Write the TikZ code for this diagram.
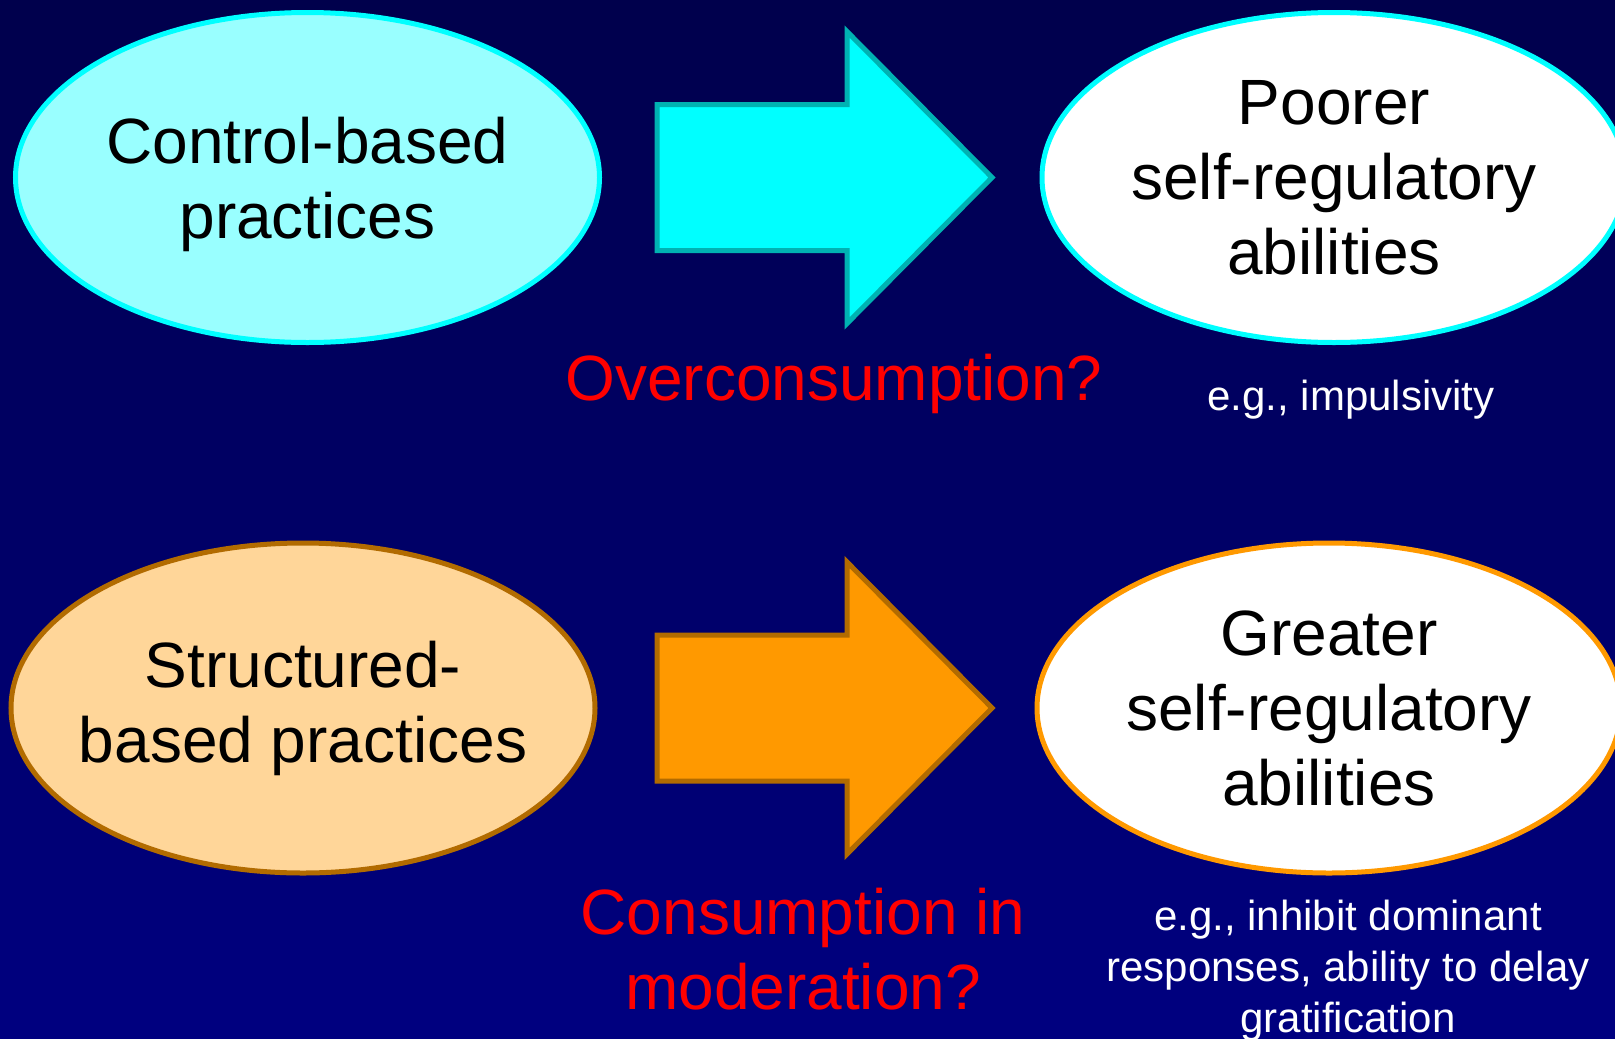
\documentclass[tikz,border=0pt]{standalone}
\usepackage{fontspec}
\setmainfont{Liberation Sans}
\usetikzlibrary{calc,shapes.geometric}
\definecolor{bgtop}{HTML}{00004C}
\definecolor{bgbottom}{HTML}{000080}
\definecolor{lightcyan}{HTML}{99FFFF}
\definecolor{aqua}{HTML}{00FFFF}
\definecolor{darkaqua}{HTML}{00B2B2}
\definecolor{lightamber}{HTML}{FFD699}
\definecolor{amber}{HTML}{FF9900}
\definecolor{darkamber}{HTML}{B26B00}
\def\blockarrow[#1](#2){\draw[#1,shift={(#2)}] (0,-73) -- (190,-73) -- (190,-146) -- (335,0) -- (190,146) -- (190,73) -- (0,73) -- cycle;}
\tikzset{
  oval/.style={ellipse, minimum width=584pt, minimum height=330pt, inner sep=0pt, line width=5pt},
  ovaltext/.style={align=center, font=\fontsize{64}{75}\selectfont},
  question/.style={text=red, align=center, anchor=base, font=\fontsize{64}{75}\selectfont},
  example/.style={text=white, align=center, anchor=base, font=\fontsize{42}{51}\selectfont}
}

\begin{document}
\begin{tikzpicture}[x=1pt, y=-1pt]
		%%%%% BACKGROUND %%%%%
		\useasboundingbox (0,0) rectangle (1615,1039);
		\clip (0,0) rectangle (1615,1039);
		\shade[top color=bgtop, bottom color=bgbottom] (0,0) rectangle (1615,1039);
		
		%%%%% TOP ROW %%%%%
		\node[oval, fill=lightcyan, draw=aqua] (ctrl) at (307.5,177.5) {};
		\node[ovaltext] (ctrltext) at ($(ctrl)+(0,7)$) {Control-based\\practices};
		\node[oval, fill=white, draw=aqua] (poorer) at (1334,177.5) {};
		\node[ovaltext] (poorertext) at (poorer) {Poorer\\self-regulatory\\abilities};
		\coordinate (arrtop) at ($(ctrl.east)+(55,0)$);
		\blockarrow[line width=5pt, fill=aqua, draw=darkaqua, line join=miter](arrtop);
		
		\node[question] (over) at (834,400) {Overconsumption?};
		\node[example] (impuls) at (1351,410) {e.g., impulsivity};
		
		%%%%% BOTTOM ROW %%%%%
		\node[oval, fill=lightamber, draw=darkamber] (struct) at (303,708) {};
		\node[ovaltext] (structtext) at (struct) {Structured-\\based practices};
		\node[oval, fill=white, draw=amber] (greater) at (1329,708) {};
		\node[ovaltext] (greatertext) at (greater) {Greater\\self-regulatory\\abilities};
		\coordinate (arrbot) at ($(struct.east)+(59.5,0)$);
		\blockarrow[line width=5pt, fill=amber, draw=darkamber, line join=miter](arrbot);
		
		\node[question] (moder) at (803,1009) {Consumption in\\moderation?};
		\node[example] (inhib) at (1348,1032) {e.g., inhibit dominant\\responses, ability to delay\\gratification};
	\end{tikzpicture}
\end{document}
